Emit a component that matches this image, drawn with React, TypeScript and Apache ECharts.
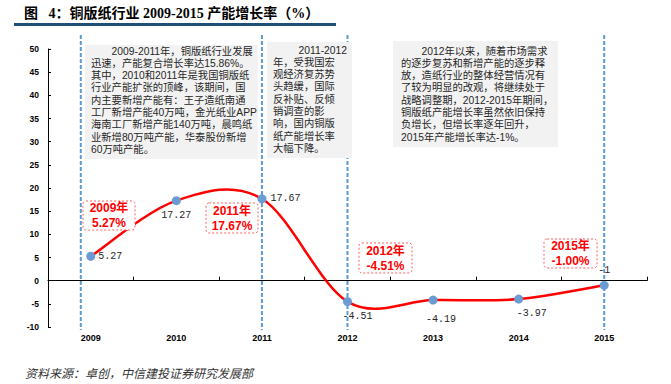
import React, { useEffect, useRef } from 'react';
import * as echarts from 'echarts';

const years = ['2009', '2010', '2011', '2012', '2013', '2014', '2015'];
const growth = [5.27, 17.27, 17.67, -4.51, -4.19, -3.97, -1];
const labelPositions = ['right', 'bottom', 'right', 'bottom', 'bottom', 'bottom', 'top'];
const labelOffsets = [[-2, 0], [0, 0], [-1, 0], [10, 0], [8, 5], [13, 0], [0, 0]];
const yMin = -10;
const yMax = 50;
const yStep = 5;

const titleText = '图\u00a0\u00a0\u00a04：铜版纸行业 2009-2015 产能增长率（%）';
const sourceText = '资料来源：卓创，中信建投证券研究发展部';

const note1Lines = [
  '\u3000\u30002009-2011年，铜版纸行业发展',
  '迅速，产能复合增长率达15.86%。',
  '其中，2010和2011年是我国铜版纸',
  '行业产能扩张的顶峰，该期间，国',
  '内主要新增产能有：王子造纸南通',
  '工厂新增产能40万吨，金光纸业APP',
  '海南工厂新增产能140万吨，晨鸣纸',
  '业新增80万吨产能，华泰股份新增',
  '60万吨产能。',
];
const note2Head = '2011-2012';
const note2Lines = [
  '年，受我国宏',
  '观经济复苏势',
  '头趋缓，国际',
  '反补贴、反倾',
  '销调查的影',
  '响，国内铜版',
  '纸产能增长率',
  '大幅下降。',
];
const note3Lines = [
  '\u3000\u30002012年以来，随着市场需求',
  '的逐步复苏和新增产能的逐步释',
  '放，造纸行业的整体经营情况有',
  '了较为明显的改观，将继续处于',
  '战略调整期，2012-2015年期间，',
  '铜版纸产能增长率虽然依旧保持',
  '负增长，但增长率逐年回升，',
  '2015年产能增长率达-1%。',
];
const calloutTexts = ['2009年\n5.27%', '2011年\n17.67%', '2012年\n-4.51%', '2015年\n-1.00%'];
const markerYears = ['2011', '2012', '2015'];

const CJK = "'Liberation Sans','Noto Sans CJK SC',sans-serif";

export default function App() {
  const ref = useRef<HTMLDivElement>(null);
  useEffect(() => {
    if (!ref.current) return;
    const chart = echarts.init(ref.current, null, { renderer: 'svg' });
    const n = growth.length;
    const base: any = {
      animation: false,
      grid: { left: 48, right: 24, top: 49, bottom: 57 },
      xAxis: [
        {
          type: 'category',
          data: years,
          axisLine: { onZero: true, lineStyle: { color: '#000', width: 1 } },
          axisTick: { show: true, inside: true, length: 4, lineStyle: { color: '#000' } },
          axisLabel: { show: false },
        },
        {
          type: 'category',
          data: years,
          position: 'bottom',
          axisLine: { show: false },
          axisTick: { show: false },
          axisLabel: {
            margin: 6,
            fontSize: 9,
            fontWeight: 'bold',
            color: '#000',
            fontFamily: "'Liberation Sans',Arial,sans-serif",
          },
        },
      ],
      yAxis: {
        type: 'value',
        min: yMin,
        max: yMax,
        interval: yStep,
        splitLine: { show: false },
        axisLine: { show: true, onZero: false, lineStyle: { color: '#000', width: 1 } },
        axisTick: { show: true, inside: true, length: 3, lineStyle: { color: '#000' } },
        axisLabel: {
          margin: 9,
          fontSize: 8.5,
          fontWeight: 'bold',
          color: '#000',
          fontFamily: "'Liberation Sans',Arial,sans-serif",
        },
      },
      series: [
        {
          type: 'custom',
          xAxisIndex: 0,
          coordinateSystem: 'cartesian2d',
          data: growth.map((v, i) => [i, v]),
          silent: true,
          z: 2,
          renderItem: (params: any, api: any) => {
            const i = params.dataIndex;
            if (i >= n - 1) return null;
            const p = (k: number) => {
              const kk = Math.max(0, Math.min(n - 1, k));
              return api.coord([kk, growth[kk]]);
            };
            const p0 = p(i - 1);
            const p1 = p(i);
            const p2 = p(i + 1);
            const p3 = p(i + 2);
            const t = 1 / 6;
            const c1 = [p1[0] + (p2[0] - p0[0]) * t, p1[1] + (p2[1] - p0[1]) * t];
            const c2 = [p2[0] - (p3[0] - p1[0]) * t, p2[1] - (p3[1] - p1[1]) * t];
            return {
              type: 'bezierCurve',
              shape: {
                x1: p1[0], y1: p1[1],
                cpx1: c1[0], cpy1: c1[1],
                cpx2: c2[0], cpy2: c2[1],
                x2: p2[0], y2: p2[1],
              },
              style: { stroke: '#ff0000', lineWidth: 2.5, fill: 'none' },
            };
          },
        },
        {
          type: 'line',
          xAxisIndex: 0,
          data: growth.map((v, i) => ({
            value: v,
            label: { position: labelPositions[i], offset: labelOffsets[i] },
          })),
          lineStyle: { opacity: 0 },
          symbol: 'circle',
          symbolSize: 9,
          itemStyle: { color: '#6a9bd2' },
          label: {
            show: true,
            fontSize: 10,
            color: '#262626',
            fontFamily: "'Liberation Mono',monospace",
            formatter: (p: any) => String(p.value),
          },
          z: 3,
        },
      ],
    };
    chart.setOption(base);

    const cx = (y: string) => chart.convertToPixel({ xAxisIndex: 0 }, y) as number;
    const x2009 = cx('2009');
    const vlineXs = [x2009 - 10, ...markerYears.map((y) => cx(y))];

    const graphics: any[] = [];
    graphics.push({
      type: 'text',
      style: {
        text: titleText,
        x: 24,
        y: 13,
        verticalAlign: 'middle',
        fontSize: 14,
        fontWeight: 'bold',
        fontFamily: "'Liberation Serif','Noto Sans CJK SC',serif",
        fill: '#000',
      },
    });
    graphics.push({ type: 'rect', shape: { x: 14, y: 23, width: 322, height: 3 }, style: { fill: '#1f4e79' } });
    graphics.push({
      type: 'text',
      style: {
        text: sourceText,
        x: 25,
        y: 372,
        verticalAlign: 'middle',
        fontSize: 12,
        fontStyle: 'italic',
        fontFamily: "'Noto Sans CJK SC',sans-serif",
        fill: '#333',
      },
    });
    vlineXs.forEach((x) => {
      graphics.push({
        type: 'line',
        z: 1,
        shape: { x1: x, y1: 35, x2: x, y2: 330 },
        style: { stroke: '#5b9bd5', lineWidth: 2, lineDash: [4, 2] },
      });
    });
    const lh = 12.3;
    graphics.push({ type: 'rect', z: 1, shape: { x: 85, y: 45, width: 173, height: 114 }, style: { fill: '#f2f2f2' } });
    graphics.push({
      type: 'text',
      z: 2,
      style: {
        text: note1Lines.join('\n'),
        x: 91,
        y: 51 - lh / 2,
        verticalAlign: 'top',
        lineHeight: lh,
        fontSize: 10.3,
        fontFamily: CJK,
        fill: '#262626',
      },
    });
    graphics.push({ type: 'rect', z: 1, shape: { x: 267, y: 42, width: 85, height: 116 }, style: { fill: '#f2f2f2' } });
    graphics.push({
      type: 'text',
      z: 2,
      style: {
        text: note2Head,
        x: 347,
        y: 50,
        align: 'right',
        verticalAlign: 'middle',
        fontSize: 10.3,
        fontFamily: CJK,
        fill: '#262626',
      },
    });
    graphics.push({
      type: 'text',
      z: 2,
      style: {
        text: note2Lines.join('\n'),
        x: 273,
        y: 50 + lh - lh / 2,
        verticalAlign: 'top',
        lineHeight: lh,
        fontSize: 10.3,
        fontFamily: CJK,
        fill: '#262626',
      },
    });
    graphics.push({ type: 'rect', z: 1, shape: { x: 393, y: 41, width: 165, height: 106 }, style: { fill: '#f2f2f2' } });
    graphics.push({
      type: 'text',
      z: 2,
      style: {
        text: note3Lines.join('\n'),
        x: 401,
        y: 51 - lh / 2,
        verticalAlign: 'top',
        lineHeight: lh,
        fontSize: 10.3,
        fontFamily: CJK,
        fill: '#262626',
      },
    });
    const boxes = [
      { x: 83, y: 201, w: 52, h: 29 },
      { x: 206, y: 203, w: 52, h: 30 },
      { x: 359, y: 243, w: 53, h: 30 },
      { x: 544, y: 239, w: 53, h: 29 },
    ];
    boxes.forEach((b, i) => {
      graphics.push({
        type: 'rect',
        z: 4,
        shape: { x: b.x, y: b.y, width: b.w, height: b.h, r: 3 },
        style: { fill: '#fff', stroke: '#ff6060', lineWidth: 1, lineDash: [2, 2] },
      });
      graphics.push({
        type: 'text',
        z: 5,
        style: {
          text: calloutTexts[i],
          x: b.x + b.w / 2,
          y: b.y + b.h / 2,
          align: 'center',
          verticalAlign: 'middle',
          lineHeight: 15,
          fontSize: 12,
          fontWeight: 'bold',
          fontFamily: CJK,
          fill: '#ff0000',
        },
      });
    });
    chart.setOption({ graphic: graphics });
    return () => chart.dispose();
  }, []);
  return <div ref={ref} style={{ position: 'absolute', left: 0, top: 0, width: 671, height: 384 }} />;
}
